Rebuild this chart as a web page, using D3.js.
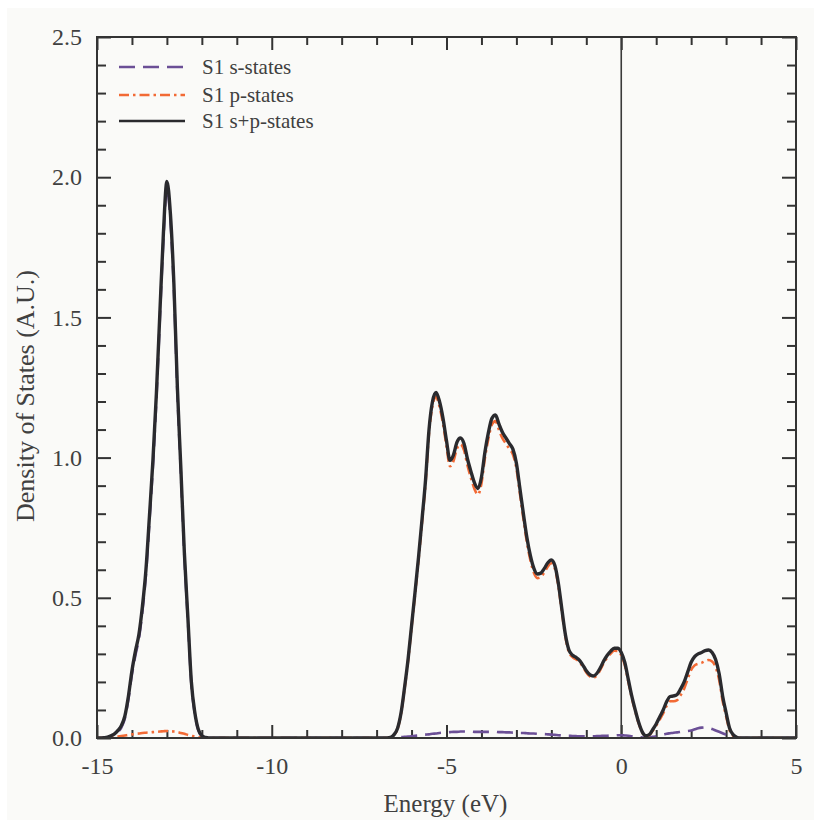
<!DOCTYPE html>
<html>
<head>
<meta charset="utf-8">
<script src="https://cdn.jsdelivr.net/npm/d3@7"></script>
<style>
html,body{margin:0;padding:0;background:#ffffff;}
svg{display:block;}
</style>
</head>
<body>
<svg id="chart" width="814" height="820"></svg>
<script>
// ---- data ----
const energy = [
 -15.0,-14.9,-14.8,-14.7,-14.6,-14.5,-14.4,-14.3,-14.2,-14.1,-14.0,-13.9,-13.8,-13.7,-13.6,-13.5,-13.4,-13.3,-13.2,-13.1,-13.0,
 -12.9,-12.8,-12.7,-12.6,-12.5,-12.4,-12.3,-12.2,-12.1,-12.0,-11.9,-11.8,-11.5,-10.0,-8.0,-7.0,-6.8,-6.7,
 -6.6,-6.5,-6.4,-6.3,-6.2,-6.1,-6.0,-5.9,-5.8,-5.7,-5.6,-5.5,-5.4,-5.3,-5.2,-5.1,-5.0,
 -4.9,-4.8,-4.7,-4.6,-4.5,-4.4,-4.3,-4.2,-4.1,-4.0,-3.9,-3.8,-3.7,-3.6,-3.5,-3.4,-3.3,-3.2,-3.1,-3.0,
 -2.9,-2.8,-2.7,-2.6,-2.5,-2.4,-2.3,-2.2,-2.1,-2.0,-1.9,-1.8,-1.7,-1.6,-1.5,-1.4,-1.3,-1.2,-1.1,-1.0,
 -0.9,-0.8,-0.7,-0.6,-0.5,-0.4,-0.3,-0.2,-0.1,0.0,0.1,0.2,0.3,0.4,0.5,0.6,0.7,0.8,0.9,1.0,
 1.1,1.2,1.3,1.4,1.5,1.6,1.7,1.8,1.9,2.0,2.1,2.2,2.3,2.4,2.5,2.6,2.7,2.8,2.9,3.0,
 3.1,3.2,3.3,3.4,4.0,5.0
];
const totalStates = [
 0,0,0.001,0.003,0.008,0.015,0.027,0.045,0.08,0.15,0.24,0.31,0.37,0.47,0.60,0.79,0.99,1.23,1.52,1.80,1.985,
 1.87,1.62,1.25,0.96,0.66,0.43,0.20,0.09,0.03,0.008,0.002,0,0,0,0,0,0,0,
 0.002,0.012,0.035,0.09,0.18,0.28,0.40,0.52,0.645,0.78,0.92,1.10,1.20,1.232,1.20,1.14,1.06,
 0.99,1.01,1.055,1.07,1.05,0.995,0.95,0.91,0.89,0.93,1.02,1.09,1.14,1.152,1.12,1.09,1.07,1.05,1.03,0.98,
 0.89,0.80,0.715,0.65,0.605,0.585,0.588,0.605,0.625,0.635,0.615,0.552,0.46,0.37,0.315,0.296,0.288,0.278,0.26,0.24,
 0.226,0.221,0.23,0.25,0.275,0.295,0.31,0.32,0.32,0.305,0.27,0.21,0.15,0.10,0.055,0.022,0.008,0.012,0.03,0.05,
 0.075,0.10,0.13,0.148,0.15,0.155,0.175,0.20,0.235,0.27,0.29,0.30,0.305,0.312,0.314,0.305,0.28,0.23,0.15,0.09,
 0.035,0.012,0.003,0,0,0
];
const pStates = [
 0,0,0,0.001,0.002,0.003,0.005,0.007,0.009,0.011,0.013,0.015,0.016,0.018,0.019,0.020,0.021,0.022,0.023,0.024,0.025,
 0.024,0.023,0.021,0.018,0.015,0.011,0.008,0.005,0.003,0.001,0,0,0,0,0,0,0,0,
 0.002,0.011,0.033,0.087,0.176,0.275,0.394,0.512,0.636,0.769,0.908,1.087,1.185,1.216,1.182,1.121,1.040,
 0.969,0.988,1.033,1.047,1.027,0.972,0.927,0.888,0.868,0.908,0.998,1.068,1.118,1.130,1.099,1.069,1.050,1.030,1.011,0.961,
 0.872,0.782,0.698,0.634,0.589,0.570,0.574,0.591,0.612,0.623,0.604,0.542,0.451,0.362,0.307,0.289,0.281,0.272,0.254,0.234,
 0.220,0.215,0.223,0.243,0.267,0.287,0.301,0.311,0.310,0.295,0.261,0.202,0.144,0.095,0.052,0.020,0.007,0.010,0.026,0.044,
 0.066,0.088,0.115,0.131,0.131,0.135,0.153,0.176,0.210,0.243,0.259,0.265,0.268,0.274,0.278,0.273,0.253,0.208,0.133,0.078,
 0.027,0.008,0.001,0,0,0
];
const sStates = [
 0,0,0.001,0.002,0.006,0.012,0.022,0.038,0.071,0.139,0.227,0.295,0.354,0.452,0.581,0.770,0.969,1.208,1.497,1.776,1.960,
 1.846,1.597,1.229,0.942,0.645,0.419,0.192,0.085,0.027,0.007,0.002,0,0,0,0,0,0,0,
 0,0.001,0.002,0.003,0.004,0.005,0.006,0.008,0.009,0.011,0.012,0.013,0.015,0.016,0.018,0.019,0.020,
 0.021,0.022,0.022,0.023,0.023,0.023,0.023,0.022,0.022,0.022,0.022,0.022,0.022,0.022,0.021,0.021,0.020,0.020,0.019,0.019,
 0.018,0.018,0.017,0.016,0.016,0.015,0.014,0.014,0.013,0.012,0.011,0.010,0.009,0.008,0.008,0.007,0.007,0.006,0.006,0.006,
 0.006,0.006,0.007,0.007,0.008,0.008,0.009,0.009,0.010,0.010,0.009,0.008,0.006,0.005,0.003,0.002,0.001,0.002,0.004,0.006,
 0.009,0.012,0.015,0.017,0.019,0.020,0.022,0.024,0.025,0.027,0.031,0.035,0.037,0.038,0.036,0.032,0.027,0.022,0.017,0.012,
 0.008,0.004,0.002,0,0,0
];
const seriesNames = ["S1 s-states", "S1 p-states", "S1 s+p-states"];
const xDomain = [-15, 5];
const yDomain = [0, 2.5];
const xMajorTicks = [-15, -10, -5, 0, 5];
const yMajorTicks = [0, 0.5, 1.0, 1.5, 2.0, 2.5];
const xLabel = "Energy (eV)";
const yLabel = "Density of States (A.U.)";
const fermiLevel = 0;

// ---- layout ----
const svg = d3.select("#chart");
const W = 814, H = 820;
const m = {left: 97, top: 37, right: 814 - 796, bottom: 820 - 738};
const iw = W - m.left - m.right, ih = H - m.top - m.bottom;
const axisColor = "#333333";
const textColor = "#404040";
const font = "'Liberation Serif','Times New Roman',serif";

svg.append("rect").attr("x", 0).attr("y", 0).attr("width", W).attr("height", H).attr("fill", "#ffffff");
svg.append("rect").attr("x", 7).attr("y", 8).attr("width", W - 7).attr("height", H - 8).attr("fill", "#fafaf8");

const x = d3.scaleLinear().domain(xDomain).range([m.left, m.left + iw]);
const y = d3.scaleLinear().domain(yDomain).range([m.top + ih, m.top]);

const xMinor = d3.range(-15, 5.001, 1).filter(v => !xMajorTicks.includes(v));
const yMinor = d3.range(0, 2.5001, 0.1).map(v => +v.toFixed(1)).filter(v => !yMajorTicks.some(t => Math.abs(t - v) < 1e-6));

function styleAxis(g) {
  g.select(".domain").remove();
  g.selectAll("line").attr("stroke", axisColor).attr("stroke-width", 2);
  g.selectAll("text").attr("fill", textColor).attr("font-family", font).attr("font-size", 24);
}

// bottom
svg.append("g").attr("transform", `translate(0,${m.top + ih})`)
  .call(d3.axisBottom(x).tickValues(xMajorTicks).tickSize(-13).tickPadding(19).tickFormat(d => String(d)))
  .call(styleAxis);
svg.append("g").attr("transform", `translate(0,${m.top + ih})`)
  .call(d3.axisBottom(x).tickValues(xMinor).tickSize(-8).tickFormat(""))
  .call(styleAxis);
// top
svg.append("g").attr("transform", `translate(0,${m.top})`)
  .call(d3.axisTop(x).tickValues(xMajorTicks).tickSize(-13).tickFormat(""))
  .call(styleAxis);
svg.append("g").attr("transform", `translate(0,${m.top})`)
  .call(d3.axisTop(x).tickValues(xMinor).tickSize(-8).tickFormat(""))
  .call(styleAxis);
// left
svg.append("g").attr("transform", `translate(${m.left},0)`)
  .call(d3.axisLeft(y).tickValues(yMajorTicks).tickSize(-14).tickPadding(15).tickFormat(d3.format(".1f")))
  .call(styleAxis);
svg.append("g").attr("transform", `translate(${m.left},0)`)
  .call(d3.axisLeft(y).tickValues(yMinor).tickSize(-9).tickFormat(""))
  .call(styleAxis);
// right
svg.append("g").attr("transform", `translate(${m.left + iw},0)`)
  .call(d3.axisRight(y).tickValues(yMajorTicks).tickSize(-14).tickFormat(""))
  .call(styleAxis);
svg.append("g").attr("transform", `translate(${m.left + iw},0)`)
  .call(d3.axisRight(y).tickValues(yMinor).tickSize(-9).tickFormat(""))
  .call(styleAxis);

// Fermi level line
svg.append("line")
  .attr("x1", x(fermiLevel)).attr("x2", x(fermiLevel))
  .attr("y1", m.top).attr("y2", m.top + ih)
  .attr("stroke", "#3a3a3a").attr("stroke-width", 1.6);

// series
const rows = energy.map((e, i) => ({e, s: sStates[i], p: pStates[i], t: totalStates[i]}));
const series = [
  {key: "s", name: seriesNames[0], color: "#6b4f96", width: 2.6, dash: "16,8"},
  {key: "p", name: seriesNames[1], color: "#f26a35", width: 2.6, dash: "10,4,2.5,4"},
  {key: "t", name: seriesNames[2], color: "#2a2a2e", width: 3.4, dash: null}
];

const plot = svg.append("g");
plot.append("clipPath").attr("id", "clip").append("rect")
  .attr("x", m.left).attr("y", m.top - 5).attr("width", iw).attr("height", ih + 5);

series.forEach(sr => {
  const line = d3.line()
    .x(d => x(d.e))
    .y(d => y(d[sr.key]))
    .curve(d3.curveMonotoneX);
  plot.append("path")
    .datum(rows)
    .attr("clip-path", "url(#clip)")
    .attr("d", line)
    .attr("fill", "none")
    .attr("stroke", sr.color)
    .attr("stroke-width", sr.width)
    .attr("stroke-linejoin", "round")
    .attr("stroke-dasharray", sr.dash);
});

// frame
svg.append("rect")
  .attr("x", m.left).attr("y", m.top).attr("width", iw).attr("height", ih)
  .attr("fill", "none").attr("stroke", axisColor).attr("stroke-width", 2);

// legend
const legendY = [67, 95, 121];
const lg = svg.append("g");
series.forEach((sr, i) => {
  lg.append("line")
    .attr("x1", 119).attr("x2", 185).attr("y1", legendY[i]).attr("y2", legendY[i])
    .attr("stroke", sr.color).attr("stroke-width", sr.key === "t" ? 2.6 : 2.4)
    .attr("stroke-dasharray", sr.dash);
  lg.append("text")
    .attr("x", 202).attr("y", legendY[i]).attr("dy", "0.33em")
    .attr("font-family", font).attr("font-size", 21).attr("fill", textColor)
    .text(sr.name);
});

// axis titles
svg.append("text")
  .attr("x", m.left + iw / 2 - 1).attr("y", 812)
  .attr("text-anchor", "middle")
  .attr("font-family", font).attr("font-size", 25).attr("fill", textColor)
  .text(xLabel);
svg.append("text")
  .attr("transform", `translate(34,${396}) rotate(-90)`)
  .attr("text-anchor", "middle")
  .attr("font-family", font).attr("font-size", 26).attr("fill", textColor)
  .text(yLabel);
</script>
</body>
</html>
